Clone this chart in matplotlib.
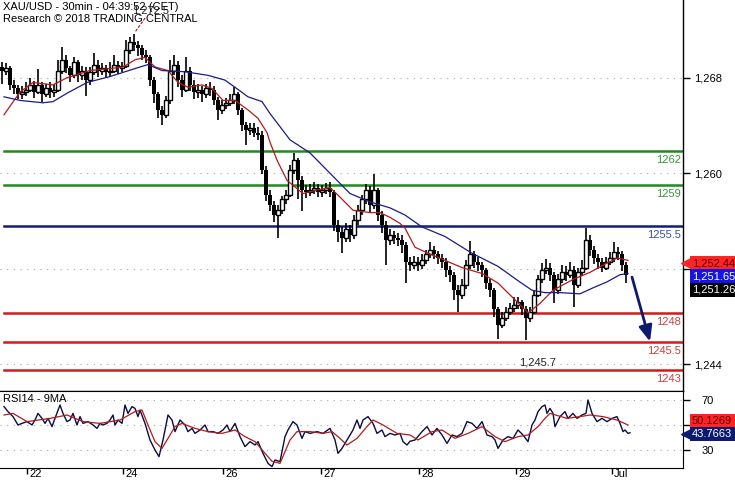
import matplotlib
matplotlib.use("Agg")
import matplotlib.pyplot as plt
import matplotlib.transforms as mtransforms
from matplotlib.lines import Line2D
import numpy as np

plt.rcParams['font.family'] = ['Liberation Sans', 'DejaVu Sans']

# hourly candles, open of a bar = close of the bar before
first_open = 1268.9
closes = [1268.6, 1268.8, 1267.4, 1267.1, 1266.6, 1266.8, 1267.0, 1267.4, 1266.8, 1267.4,
          1266.6, 1267.1, 1266.8, 1267.0, 1268.6, 1269.5, 1268.8, 1268.2, 1269.3, 1268.2,
          1268.6, 1267.8, 1268.5, 1269.1, 1268.6, 1268.8, 1268.5, 1268.6, 1269.1, 1268.8,
          1269.0, 1270.3, 1271.0, 1270.7, 1270.5, 1269.9, 1269.7, 1267.8, 1266.6, 1265.3,
          1264.9, 1266.1, 1268.6, 1269.1, 1267.8, 1267.0, 1268.6, 1267.4, 1266.8, 1267.0,
          1266.6, 1267.1, 1267.0, 1266.1, 1265.3, 1265.7, 1265.9, 1266.1, 1266.6, 1265.3,
          1264.0, 1263.6, 1263.8, 1263.4, 1263.2, 1260.3, 1258.2, 1257.3, 1256.5, 1256.9,
          1257.8, 1258.2, 1260.3, 1261.1, 1259.4, 1258.6, 1258.4, 1258.6, 1258.8, 1258.4,
          1258.6, 1258.8, 1258.4, 1255.7, 1255.1, 1254.6, 1255.3, 1254.8, 1256.1, 1256.9,
          1257.8, 1258.6, 1257.3, 1258.6, 1256.5, 1255.7, 1254.4, 1254.8, 1254.6, 1254.4,
          1254.0, 1252.6, 1252.3, 1252.6, 1252.3, 1252.7, 1253.2, 1253.6, 1253.2, 1252.9,
          1252.6, 1251.9, 1251.5, 1250.2, 1249.8, 1250.6, 1252.3, 1253.2, 1252.6, 1252.3,
          1251.9, 1250.8, 1250.2, 1248.6, 1247.3, 1247.9, 1248.4, 1248.7, 1249.0, 1249.2,
          1248.6, 1247.9, 1248.4, 1249.8, 1251.1, 1251.9, 1252.1, 1251.5, 1250.2, 1251.1,
          1251.7, 1251.5, 1251.9, 1250.6, 1251.7, 1252.1, 1254.4, 1253.6, 1252.9, 1252.6,
          1252.1, 1252.6, 1252.9, 1253.4, 1253.2, 1252.3, 1251.5]
highs = [1269.3, 1269.2, 1269.0, 1267.8, 1267.4, 1267.3, 1267.6, 1268.0, 1267.7, 1268.7,
         1267.6, 1267.5, 1267.6, 1267.5, 1269.5, 1270.6, 1269.9, 1269.0, 1269.7, 1269.5,
         1269.0, 1268.9, 1268.9, 1270.1, 1269.5, 1269.2, 1269.1, 1269.3, 1269.9, 1269.4,
         1269.3, 1271.2, 1271.4, 1271.7, 1271.1, 1270.7, 1270.3, 1269.9, 1268.1, 1266.8,
         1265.6, 1266.5, 1269.5, 1269.9, 1269.4, 1268.2, 1269.7, 1268.9, 1267.8, 1267.5,
         1267.3, 1267.5, 1267.6, 1267.3, 1266.4, 1266.1, 1266.3, 1266.6, 1267.2, 1266.8,
         1265.5, 1264.3, 1264.2, 1264.2, 1263.9, 1263.5, 1260.6, 1258.6, 1257.7, 1257.3,
         1258.1, 1258.6, 1260.7, 1261.7, 1261.3, 1259.8, 1259.0, 1259.1, 1259.3, 1259.1,
         1259.0, 1259.2, 1259.3, 1258.6, 1256.1, 1255.5, 1255.8, 1255.7, 1256.5, 1257.3,
         1258.2, 1259.1, 1258.9, 1259.9, 1258.8, 1256.8, 1256.0, 1255.3, 1255.2, 1255.0,
         1254.8, 1254.2, 1253.0, 1253.1, 1253.0, 1253.2, 1253.6, 1254.2, 1253.9, 1253.5,
         1253.2, 1252.9, 1252.2, 1251.7, 1250.6, 1251.1, 1252.7, 1254.3, 1253.5, 1253.0,
         1252.6, 1252.1, 1251.1, 1250.4, 1248.8, 1248.4, 1248.8, 1249.1, 1249.6, 1249.6,
         1249.4, 1248.9, 1248.8, 1250.2, 1251.5, 1252.5, 1252.8, 1252.5, 1251.7, 1251.6,
         1252.3, 1252.2, 1252.6, 1252.2, 1252.1, 1252.7, 1255.4, 1254.8, 1253.9, 1253.2,
         1252.9, 1253.0, 1253.4, 1254.2, 1253.8, 1253.5, 1252.6]
lows = [1267.5, 1268.2, 1267.0, 1266.6, 1266.2, 1266.2, 1266.5, 1266.8, 1266.3, 1266.6,
        1266.0, 1266.4, 1266.3, 1266.4, 1266.8, 1268.3, 1268.4, 1267.6, 1268.0, 1267.6,
        1267.8, 1266.5, 1267.4, 1268.2, 1268.1, 1268.2, 1268.0, 1268.1, 1268.4, 1268.3,
        1268.5, 1268.8, 1270.0, 1270.2, 1269.8, 1269.5, 1269.2, 1267.3, 1265.9, 1264.6,
        1264.0, 1264.6, 1265.8, 1268.2, 1267.2, 1266.4, 1266.8, 1266.9, 1266.2, 1266.3,
        1266.0, 1266.3, 1266.5, 1265.7, 1264.5, 1265.0, 1265.4, 1265.6, 1265.8, 1264.9,
        1263.5, 1262.4, 1263.2, 1263.0, 1262.8, 1259.9, 1257.7, 1256.8, 1255.9, 1254.6,
        1256.6, 1257.4, 1258.0, 1259.9, 1257.8, 1256.8, 1257.9, 1258.1, 1258.3, 1258.0,
        1258.0, 1258.3, 1258.0, 1255.2, 1254.2, 1253.3, 1254.2, 1254.2, 1254.5, 1255.7,
        1256.5, 1257.4, 1256.7, 1257.0, 1256.0, 1255.0, 1252.3, 1254.0, 1254.1, 1253.9,
        1253.3, 1250.8, 1251.8, 1252.0, 1251.8, 1252.0, 1252.4, 1252.9, 1252.8, 1252.4,
        1252.1, 1251.3, 1250.9, 1249.4, 1248.4, 1249.5, 1250.3, 1252.0, 1252.1, 1251.8,
        1251.3, 1250.3, 1249.6, 1248.0, 1246.1, 1247.0, 1247.6, 1248.1, 1248.4, 1248.6,
        1248.1, 1246.0, 1247.5, 1248.2, 1249.6, 1250.8, 1251.6, 1251.0, 1249.1, 1249.9,
        1250.8, 1251.0, 1251.2, 1248.8, 1250.4, 1251.4, 1251.9, 1253.1, 1252.4, 1252.0,
        1251.7, 1251.9, 1252.3, 1252.6, 1252.7, 1251.8, 1250.8]

# moving averages (red = fast, blue = slow), read as points along the lines
ma_fast_t = [0.5, 4.5, 7.75, 12.75, 16.25, 22, 27.75, 30.25, 33.25, 35.75, 38.25, 41.5, 44, 46.5,
             50, 52.5, 55.25, 58.25, 61.5, 64, 66.25, 67, 68.75, 71.25, 75.25, 78.75, 82, 84.5,
             87.75, 92, 94.5, 97, 99.5, 100.75, 103.25, 106.5, 110.75, 115, 120, 124, 128.25,
             131.5, 134.5, 137.75, 142.75, 147, 150.25, 153.75, 156.5]
ma_fast = [1264.9, 1266.8, 1267.6, 1267.4, 1268.0, 1268.6, 1268.8, 1268.9, 1269.5, 1269.7, 1268.9,
           1268.6, 1267.6, 1267.2, 1267.4, 1267.1, 1266.1, 1266.1, 1265.3, 1264.6, 1263.4, 1262.6,
           1261.1, 1259.4, 1258.3, 1258.6, 1258.8, 1258.0, 1256.9, 1256.7, 1256.7, 1256.3, 1255.8,
           1255.4, 1253.8, 1253.3, 1252.7, 1252.1, 1251.6, 1250.8, 1249.4, 1248.3, 1249.1, 1250.2,
           1251.1, 1251.7, 1252.3, 1252.9, 1252.7]
ma_slow_t = [0.5, 4.5, 10.25, 12.75, 16.25, 21.25, 27, 34.5, 36.5, 40, 45.75, 51.5, 55.75, 58.25,
             61.5, 65, 67, 72, 77, 82, 87, 92, 97, 100.75, 105, 110.75, 117.5, 124, 129, 132.5,
             135.75, 139.5, 144.5, 147.75, 151.25, 154.5, 156.5]
ma_slow = [1266.4, 1266.1, 1265.9, 1266.0, 1266.7, 1267.6, 1268.1, 1268.9, 1269.1, 1268.6, 1268.5,
           1268.2, 1267.8, 1267.2, 1266.4, 1266.0, 1265.0, 1262.8, 1261.7, 1260.0, 1258.3, 1257.6,
           1257.1, 1256.5, 1255.5, 1254.7, 1253.3, 1252.2, 1251.0, 1250.2, 1250.0, 1250.0, 1249.9,
           1250.4, 1250.9, 1251.5, 1251.6]

# RSI(14) and its 9-period average
rsi_t = [0.5, 1.5, 2.75, 4, 5, 6.25, 7.5, 8.25, 9, 10, 10.75, 11.5, 12.5, 13.25, 14.5, 15.25,
         16.25, 17, 17.75, 18.75, 19.5, 20.25, 21.5, 22.75, 23.75, 24.5, 25.25, 26.25, 27, 27.75,
         28.25, 29, 30, 30.75, 31.5, 32.5, 33.25, 34, 34.5, 35.75, 37, 38.25, 39.25, 40.25, 41.5,
         42.5, 43.25, 44.5, 45.75, 46.5, 47.5, 48.25, 49.5, 50.75, 51.5, 52.75, 54, 55.25, 56.25,
         57, 58.25, 59.5, 60.75, 62, 63.25, 64, 65.25, 66.5, 67.5, 68.25, 69.5, 70.75, 71.5, 72.75,
         73.75, 75, 75.75, 77, 78.75, 80.25, 82, 83.25, 84, 85, 86.25, 87, 87.75, 88.75, 89.5,
         90.25, 91.5, 92.75, 93.75, 95, 95.75, 97, 98.25, 99.5, 100.25, 101.25, 102, 103.25, 105,
         106.25, 107.5, 108.75, 110, 111.25, 112.5, 113.75, 115, 116.25, 117.5, 118.75, 120,
         121.25, 122.5, 123.25, 124, 125.25, 126.5, 127.75, 129, 130.25, 131.5, 132.5, 133.25,
         134, 135, 135.75, 136.25, 137, 137.75, 138.25, 139.5, 140.75, 141.5, 142.75, 143.75, 145,
         146, 146.5, 147.5, 148.75, 150, 151.25, 152.5, 153.75, 154.5, 155.25, 155.75, 156.5, 157]
rsi = [64.7, 60.7, 56.7, 50, 51.3, 52.7, 50, 54, 59.3, 55.3, 51.3, 55.3, 48.7, 55.3, 66, 59.3,
       52.7, 54, 59.3, 50, 56.7, 51.3, 52.7, 50, 47.3, 51.3, 50, 51.3, 54, 58,
       50, 54, 51.3, 66, 59.3, 64.7, 63.3, 56.7, 62, 51.3, 38, 30, 24.7, 38, 58,
       54, 44.7, 54, 50, 44.7, 47.3, 43.3, 46, 50, 44.7, 44.7, 43.3, 46, 50,
       44.7, 51.3, 40.7, 32.7, 36.7, 34, 36.7, 27.3, 19.3, 16.7, 22, 20.7, 40.7, 46, 52.7,
       50, 39.3, 44.7, 43.3, 44.7, 43.3, 47.3, 38, 27.3, 31.3, 38, 42, 46, 54, 47.3,
       54, 56.7, 51.3, 43.3, 46, 40.7, 43.3, 42, 43.3, 36.7, 34, 37, 38, 44.7,
       48.7, 42, 47.3, 42, 35.3, 42, 40.7, 43.3, 52.7, 51.3, 47.3, 52.7,
       42, 40.7, 38, 31.3, 38, 40.7, 39.3, 46, 42, 36.7, 50, 54,
       60.7, 64.7, 66, 59.3, 63.3, 59.3, 48.7, 56.7, 60.7, 55.3, 59.3, 55.3, 58,
       59.3, 70, 59.3, 52.7, 55.3, 52.7, 55.3, 56.7, 51.3, 44.7, 46, 43.3, 43.8]
rsi_ma_t = [0.5, 2.75, 6.25, 12, 16.25, 20.25, 24.5, 29.5, 33.25, 35, 36.5, 38.25, 40, 41.5, 43.25,
            45, 48.25, 51.5, 55, 58.25, 60.75, 63.25, 65.75, 67.5, 69.5, 72, 73.75, 77, 80.25,
            82.5, 84.5, 86.25, 88.75, 91.25, 92.75, 95.25, 98.75, 102, 104, 107.5, 110, 113.25,
            116.5, 120, 123.25, 125.75, 129, 131.5, 134, 135.75, 137, 141.25, 144.5, 147, 150.25,
            153.75, 156.5]
rsi_ma = [58, 59.3, 52.7, 55.3, 58, 52.7, 51.3, 54, 60.7, 62, 50, 36.7, 31.3, 39.3, 48.7,
          51.3, 47.3, 44.7, 43.3, 46, 40.7, 36.7, 27.3, 21, 19.3, 38, 44.7, 44.7, 43.3,
          44.7, 39.3, 34, 39.3, 48.7, 54, 50, 43.3, 42, 38, 44.7, 46, 39.3,
          43.3, 48.7, 40.7, 36.7, 40.7, 42, 48.7, 55.3, 59.3, 55.3, 56.7, 58, 56.7,
          54, 50]

levels = [1261.9, 1259.0, 1255.6, 1248.3, 1245.9, 1243.5]
level_labels = ['1262', '1259', '1255.5', '1248', '1245.5', '1243']
level_colors = ['#1f8a1f', '#1f8a1f', '#121f78', '#d21a1a', '#d21a1a', '#d21a1a']
level_text_colors = ['#3a943a', '#3a943a', '#3d4f9e', '#cc4040', '#cc4040', '#cc4040']

day_pos = [6.25, 30.25, 55.25, 79.75, 104.25, 128.5, 152.5]
day_labels = ['22', '24', '26', '27', '28', '29', 'Jul']
# 1,252 and 50 sit behind the last-value boxes in the original
price_ticks = [1244, 1252, 1260, 1268]
price_tick_labels = ['1,244', '', '1,260', '1,268']
rsi_ticks = [30, 50, 70]
rsi_tick_labels = ['30', '', '70']

last_price_labels = ['1,252.44', '1,251.65', '1,251.26']
last_rsi_labels = ['50.1269', '43.7663']
high_label = '1,272.5'
low_label = '1,245.7'
arrow_from = (157.5, 1251.3)
arrow_to = (162, 1245.9)

W, H = 735, 480
fig = plt.figure(figsize=(W / 100, H / 100), dpi=100)
right = 683 / W
ax = fig.add_axes([0, 1 - 391 / H, right, 391 / H])
ax2 = fig.add_axes([0, 1 - 468 / H, right, 77 / H], sharex=ax)

grid_kw = dict(color='#a8a8a8', linestyle=(0, (1, 5)), lw=0.8)

# ---- price panel
n = len(closes)
idx = np.arange(n)
c = np.array(closes)
o = np.r_[first_open, c[:-1]]
up = c >= o
body_lo = np.minimum(o, c)
body_h = np.maximum(np.abs(c - o), 0.1)
ax.vlines(idx, lows, highs, color='black', lw=1.2, zorder=3)
ax.bar(idx[up], body_h[up], bottom=body_lo[up], width=0.78, facecolor='white',
       edgecolor='black', lw=1.0, zorder=4)
ax.bar(idx[~up], body_h[~up], bottom=body_lo[~up], width=0.78, color='black', lw=0, zorder=4)

ax.plot(ma_fast_t, ma_fast, color='#b01c1c', lw=0.9, zorder=5)
ax.plot(ma_slow_t, ma_slow, color='#1b1b86', lw=0.9, zorder=5)

for y, lab, col, tcol in zip(levels, level_labels, level_colors, level_text_colors):
    ax.axhline(y, xmin=0.006, color=col, lw=1.8, zorder=2)
    ax.annotate(lab, xy=(1, y), xycoords=ax.get_yaxis_transform(), xytext=(-1.5, -3),
                textcoords='offset points', ha='right', va='top', color=tcol, fontsize=8)

i_hi = int(np.argmax(highs))
ax.annotate(high_label, xy=(i_hi, highs[i_hi]), xytext=(-2, 23), textcoords='offset pixels',
            ha='left', va='center', fontsize=8, color='#222222',
            arrowprops=dict(arrowstyle='-', ls=(0, (2, 2)), color='#a01010', lw=0.8,
                            shrinkA=0, shrinkB=1))
i_lo = int(np.argmin(lows))
ax.annotate(low_label, xy=(i_lo, lows[i_lo]), xytext=(12, -22), textcoords='offset pixels',
            ha='center', va='center', fontsize=8, color='#222222')

ax.annotate('', xy=arrow_to, xytext=arrow_from,
            arrowprops=dict(arrowstyle='-|>,head_length=0.95,head_width=0.4', color='#0c1a70',
                            lw=2, mutation_scale=10, shrinkA=0, shrinkB=0), zorder=6)

ax.set_xlim(-0.5, 170.25)
ax.set_ylim(1241.76, 1274.51)
ax.set_yticks(price_ticks, price_tick_labels)
ax.grid(axis='y', **grid_kw)
ax.grid(axis='x', visible=False)
ax.yaxis.tick_right()
ax.tick_params(axis='y', direction='out', length=5, width=1, labelsize=8, pad=13, colors='black')
ax.tick_params(axis='x', bottom=False, labelbottom=False)
for s in ['left', 'top']:
    ax.spines[s].set_visible(False)
ax.spines['right'].set_linewidth(1)
ax.spines['bottom'].set_linewidth(1)

# ---- RSI panel
ax2.plot(rsi_t, rsi, color='#0c0c40', lw=1.0, zorder=4)
ax2.plot(rsi_ma_t, rsi_ma, color='#b01c1c', lw=0.9, zorder=5)
ax2.set_ylim(15.6, 77.2)
ax2.set_yticks(rsi_ticks, rsi_tick_labels)
ax2.grid(axis='y', **grid_kw)
ax2.yaxis.tick_right()
ax2.tick_params(axis='y', direction='out', length=5, width=1, labelsize=8, pad=13)
ax2.set_xticks(day_pos, day_labels)
ax2.tick_params(axis='x', direction='out', length=4, width=1, labelsize=8, pad=-3)
ax2.spines['left'].set_visible(False)
ax2.text(0.005, 0.9, 'RSI14 - 9MA', transform=ax2.transAxes, fontsize=8, va='center')

for a in (ax, ax2):
    for lab in a.get_yticklabels():
        lab.set_horizontalalignment('center')
for lab in ax2.get_xticklabels():
    lab.set_horizontalalignment('left')
    lab.set_transform(lab.get_transform() + mtransforms.ScaledTranslation(0.02, 0, fig.dpi_scale_trans))

# ---- header text
fig.text(3 / W, 1 - 7 / H, 'XAU/USD - 30min - 04:39:52 (CET)', fontsize=8, va='center')
fig.text(3 / W, 1 - 19 / H, 'Research \u00a9 2018 TRADING CENTRAL', fontsize=8, va='center')

# ---- last-value boxes on the right
def value_box(y_px, text, fc, tc, arrow=False):
    fig.text(692 / W, 1 - y_px / H, text, fontsize=8, va='center', ha='left', color=tc, zorder=10,
             bbox=dict(boxstyle='square,pad=0.22', fc=fc, ec='none'))
    if arrow:
        fig.add_artist(Line2D([687 / W], [1 - y_px / H], marker='<', ms=9, color=fc, lw=0,
                              transform=fig.transFigure, zorder=10))

value_box(263, last_price_labels[0], '#ff2424', '#5a0000', arrow=True)
value_box(276.5, last_price_labels[1], '#1414e6', 'white')
value_box(290, last_price_labels[2], 'black', 'white')
value_box(421, last_rsi_labels[0], '#ff2424', '#5a0000')
value_box(434, last_rsi_labels[1], '#0c1a70', 'white', arrow=True)

fig.savefig('out.png', dpi=100)
